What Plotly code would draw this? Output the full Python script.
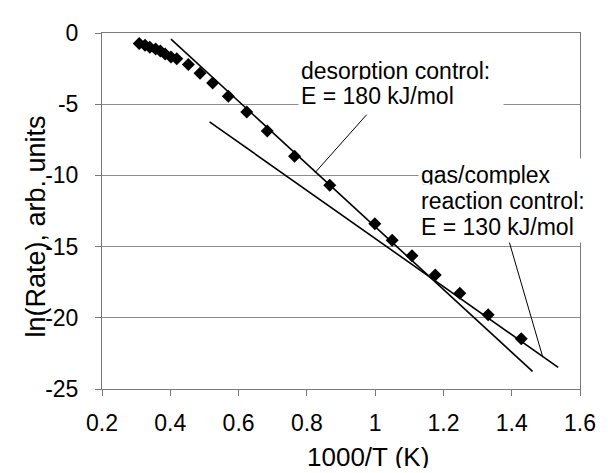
import plotly.graph_objects as go

# measured points: 1000/T vs ln(rate)
inv_T = [0.309, 0.326, 0.340, 0.357, 0.371, 0.385, 0.402, 0.419, 0.453, 0.487,
         0.524, 0.570, 0.624, 0.684, 0.764, 0.867, 0.999, 1.050, 1.108, 1.176,
         1.248, 1.331, 1.428]
ln_rate = [-0.73, -0.86, -1.00, -1.13, -1.27, -1.47, -1.68, -1.81, -2.22, -2.83,
           -3.51, -4.45, -5.54, -6.89, -8.66, -10.69, -13.40, -14.56, -15.64, -17.00,
           -18.28, -19.78, -21.47]

# fitted lines (end points)
desorp_x = [0.402, 1.461]
desorp_y = [-0.43, -23.76]
gas_x = [0.515, 1.536]
gas_y = [-6.24, -23.48]

# leader lines from labels to fits
desorp_lead_x = [0.975, 0.825]
desorp_lead_y = [-5.74, -9.78]
gas_lead_x = [1.393, 1.490]
gas_lead_y = [-14.69, -22.68]

x_ticks = [0.2, 0.4, 0.6, 0.8, 1.0, 1.2, 1.4, 1.6]
x_tick_text = ["0.2", "0.4", "0.6", "0.8", "1", "1.2", "1.4", "1.6"]
y_ticks = [0, -5, -10, -15, -20, -25]
y_tick_text = ["0", "-5", "-10", "-15", "-20", "-25"]

FONT = "Liberation Sans, Arial, sans-serif"

fig = go.Figure()

for xs, ys in [(desorp_x, desorp_y), (gas_x, gas_y)]:
    fig.add_trace(go.Scatter(x=xs, y=ys, mode="lines",
                             line=dict(color="black", width=1.6),
                             hoverinfo="skip", showlegend=False))

for xs, ys in [(desorp_lead_x, desorp_lead_y), (gas_lead_x, gas_lead_y)]:
    fig.add_trace(go.Scatter(x=xs, y=ys, mode="lines",
                             line=dict(color="black", width=1),
                             hoverinfo="skip", showlegend=False))

fig.add_trace(go.Scatter(
    x=inv_T, y=ln_rate, mode="markers",
    marker=dict(symbol="diamond", size=10, color="black"),
    showlegend=False
))

# label text, one annotation per line so spacing matches
labels = [
    ("desorption control:", 0.773, -2.6, 200),
    ("E = 180 kJ/mol", 0.773, -4.4, 200),
    ("gas/complex", 1.126, -9.92, 168),
    ("reaction control:", 1.126, -11.75, 168),
    ("E = 130 kJ/mol", 1.126, -13.57, 168),
]
for text, x, y, w in labels:
    fig.add_annotation(x=x, y=y, xref="x", yref="y", text=text, showarrow=False,
                       xanchor="left", yanchor="middle", align="left",
                       width=w, height=27, borderpad=2, bgcolor="white",
                       font=dict(family=FONT, size=23, color="black"))

# axis titles
fig.add_annotation(x=0.557, y=-0.19, xref="paper", yref="paper",
                   text="1000/T (K)", showarrow=False, height=22, borderpad=0,
                   xanchor="center", yanchor="middle",
                   font=dict(family=FONT, size=26, color="black"))
fig.add_annotation(x=-0.137, y=0.455, xref="paper", yref="paper",
                   text="ln(Rate), arb. units", showarrow=False, textangle=-90,
                   xanchor="center", yanchor="middle",
                   font=dict(family=FONT, size=27, color="black"))

axis_common = dict(
    showline=True, linecolor="#7a7a7a", linewidth=1, mirror=True,
    ticks="outside", ticklen=6, tickcolor="#7a7a7a", tickwidth=1,
    tickfont=dict(family=FONT, size=23, color="black"),
    zeroline=False,
)

fig.update_xaxes(range=[0.2, 1.6], tickvals=x_ticks, ticktext=x_tick_text,
                 showgrid=False, ticklabelstandoff=7, **axis_common)
fig.update_yaxes(range=[-25, 0], tickvals=y_ticks, ticktext=y_tick_text,
                 showgrid=True, gridcolor="#8c8c8c", gridwidth=1,
                 ticklabelstandoff=12, **axis_common)

# the page body adds an 8px offset, so the figure is 8px smaller each way
fig.update_layout(
    width=600, height=465,
    margin=dict(l=94, r=18, t=12, b=84),
    plot_bgcolor="white", paper_bgcolor="white",
    font=dict(family=FONT, color="black"),
)

fig.write_html("out.html")
